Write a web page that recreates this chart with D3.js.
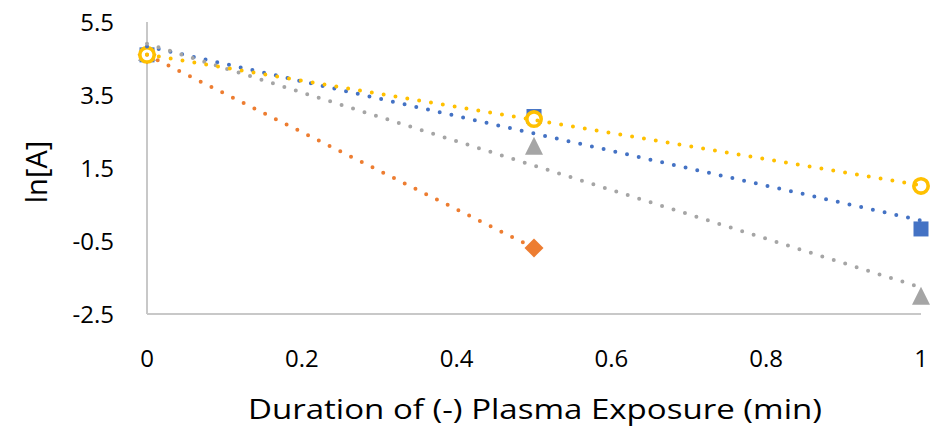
<!DOCTYPE html>
<html><head><meta charset="utf-8">
<script src="https://cdn.jsdelivr.net/npm/d3@7"></script>
<style>body{margin:0;background:#fff}svg{display:block}text{font-family:"Open Sans",sans-serif;fill:#000}</style>
</head><body><svg id="c" width="947" height="428"></svg>
<script>
const xValues = [0, 0.5, 1];
const seriesBlue = [4.6, 2.91, -0.17];
const seriesOrange = [4.6, -0.69];
const seriesGray = [4.65, 2.08, -2.03];
const seriesYellow = [4.6, 2.84, 1.01];
const yTicks = [5.5, 3.5, 1.5, -0.5, -2.5];
const xTicks = [0, 0.2, 0.4, 0.6, 0.8, 1];
const xTitle = "Duration of (-) Plasma Exposure (min)";
const yTitle = "ln[A]";

const series = [
  {vals: seriesBlue, color: "#4472C4", shape: "square"},
  {vals: seriesOrange, color: "#ED7D31", shape: "diamond"},
  {vals: seriesGray, color: "#A5A5A5", shape: "triangle"},
  {vals: seriesYellow, color: "#FFC000", shape: "circle"}
];

const svg = d3.select("#c");
const x = d3.scaleLinear().domain([0, 1]).range([147, 921]);
const y = d3.scaleLinear().domain([-2.5, 5.5]).range([314, 22]);

svg.append("line").attr("x1", x(0)).attr("x2", x(0)).attr("y1", y(5.5)).attr("y2", y(-2.5))
  .attr("stroke", "#c8c8c8").attr("stroke-width", 2);
svg.append("line").attr("x1", x(0)).attr("x2", x(1)).attr("y1", y(-2.5)).attr("y2", y(-2.5))
  .attr("stroke", "#c8c8c8").attr("stroke-width", 2);

svg.selectAll(".yt").data(yTicks).enter().append("text")
  .attr("x", 114).attr("y", d => y(d)).attr("dy", "0.36em")
  .attr("text-anchor", "end").style("font-size", "24px").text(d => d);
svg.selectAll(".xt").data(xTicks).enter().append("text")
  .attr("x", d => x(d)).attr("y", 367)
  .attr("text-anchor", "middle").style("font-size", "24px").text(d => d);

svg.append("text").attr("x", 535).attr("y", 419).attr("text-anchor", "middle")
  .style("font-size", "28px").attr("textLength", 574).attr("lengthAdjust", "spacingAndGlyphs").text(xTitle);
svg.append("text").attr("transform", "translate(47,172) rotate(-90)").attr("text-anchor", "middle")
  .style("font-size", "29px").text(yTitle);

const g = svg.append("g");
series.forEach(s => {
  s.vals.forEach((v, i) => {
    const cx = x(xValues[i]), cy = y(v);
    if (s.shape === "square") {
      g.append("rect").attr("x", cx - 7.5).attr("y", cy - 7.5).attr("width", 15).attr("height", 15).attr("fill", s.color);
    } else if (s.shape === "diamond") {
      g.append("path").attr("d", `M${cx},${cy-9.5}L${cx+9.5},${cy}L${cx},${cy+9.5}L${cx-9.5},${cy}Z`).attr("fill", s.color);
    } else if (s.shape === "triangle") {
      g.append("path").attr("d", `M${cx},${cy-10}L${cx+9},${cy+8}L${cx-9},${cy+8}Z`).attr("fill", s.color);
    } else {
      g.append("circle").attr("cx", cx).attr("cy", cy).attr("r", 7.2).attr("fill", "#fff")
        .attr("stroke", s.color).attr("stroke-width", 3.6);
    }
  });
});

series.forEach(s => {
  const xs = xValues.slice(0, s.vals.length);
  const mx = d3.mean(xs), my = d3.mean(s.vals);
  const slope = d3.sum(xs, (xx, i) => (xx - mx) * (s.vals[i] - my)) / d3.sum(xs, xx => (xx - mx) ** 2);
  const b = my - slope * mx;
  const x0 = xs[0], x1 = xs[xs.length - 1];
  svg.append("line").attr("x1", x(x0)).attr("y1", y(b + slope * x0))
    .attr("x2", x(x1)).attr("y2", y(b + slope * x1))
    .attr("stroke", s.color).attr("stroke-width", 4).attr("stroke-linecap", "round")
    .attr("stroke-dasharray", "0 12");
});
</script></body></html>
